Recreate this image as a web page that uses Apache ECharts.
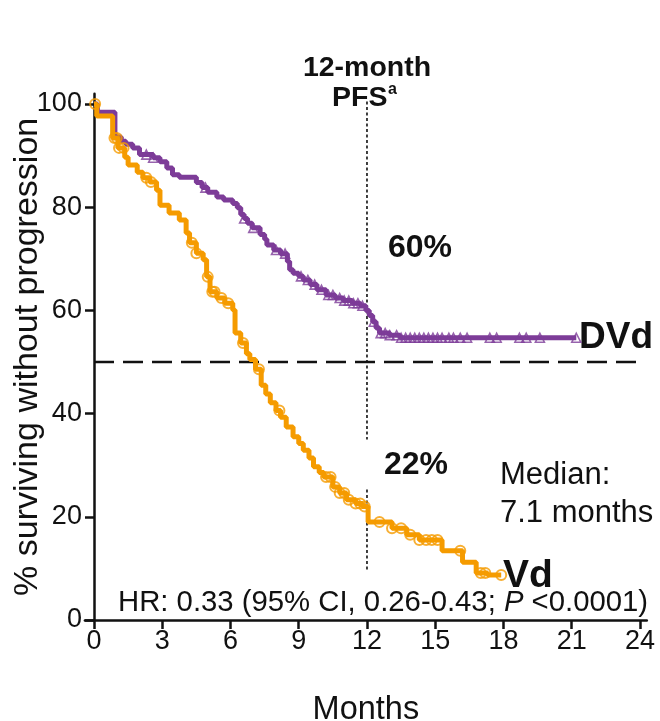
<!DOCTYPE html>
<html>
<head>
<meta charset="utf-8">
<script src="https://cdn.jsdelivr.net/npm/echarts@6/dist/echarts.min.js"></script>
<style>
  html, body { margin: 0; padding: 0; background: #ffffff; }
  #chart { width: 660px; height: 721px; }
</style>
</head>
<body>
<div id="chart"></div>
<script>
// Axis ticks
const xTicks = [0, 3, 6, 9, 12, 15, 18, 21, 24];
const yTicks = [0, 20, 40, 60, 80, 100];

// Kaplan-Meier steps: DVd (months, % progression-free)
const dvdTime = [0, 0.15, 0.92, 1.2, 1.4, 1.7, 2.0, 2.6, 2.9, 3.2, 3.45, 3.75, 4.5, 4.75, 5.0, 5.4,
  5.7, 6.1, 6.3, 6.45, 6.6, 6.75, 6.95, 7.3, 7.5, 7.6, 7.9, 8.2, 8.5, 8.6, 8.75, 9.0, 9.2, 9.5,
  9.8, 10.2, 10.6, 10.95, 11.35, 11.7, 11.95, 12.1, 12.25, 12.4, 12.55, 13.0, 13.45, 21.2];
const dvdSurv = [100, 98.4, 93.6, 92.8, 92.2, 91.5, 90.2, 89.6, 88.8, 87.6, 86.3, 85.8, 84.8, 83.8, 82.9, 82.0,
  81.4, 80.7, 79.9, 78.6, 77.8, 76.9, 76.0, 74.7, 73.8, 72.7, 71.7, 71.0, 69.5, 67.9, 67.2, 66.6, 65.9, 65.0,
  64.0, 63.0, 62.4, 61.9, 61.4, 60.9, 60.0, 59.0, 57.8, 56.6, 55.6, 55.2, 54.7, 54.7];
// Censored patients, DVd (months)
const dvdCensor = [2.3, 2.6, 4.9, 6.6, 7.0, 8.0, 8.4, 9.1, 9.4, 9.7, 10.0, 10.3, 10.5, 10.8, 11.0, 11.2,
  11.4, 11.6, 11.8, 12.3, 12.6, 12.8, 13.0, 13.3, 13.5, 13.7, 13.9, 14.1, 14.3, 14.5, 14.7, 14.9,
  15.1, 15.3, 15.6, 15.8, 16.1, 16.4, 17.4, 17.7, 18.7, 19.0, 19.6, 21.2];

// Kaplan-Meier steps: Vd
const vdTime = [0, 0.12, 0.82, 1.05, 1.35, 1.5, 1.9, 2.15, 2.45, 2.75, 2.9, 3.3, 3.75, 4.05, 4.2, 4.5,
  4.8, 4.95, 5.1, 5.4, 5.75, 6.1, 6.2, 6.45, 6.7, 6.85, 7.1, 7.35, 7.55, 7.75, 8.0, 8.2, 8.45, 8.75,
  9.0, 9.2, 9.45, 9.65, 9.9, 10.1, 10.5, 10.8, 11.1, 11.5, 11.8, 12.05, 13.1, 13.75, 14.3, 15.3,
  16.2, 16.8, 17.3, 17.9];
const vdSurv = [100, 97.7, 93.4, 91.5, 89.7, 88.2, 86.8, 85.7, 84.9, 83.3, 80.4, 78.9, 77.5, 75.0, 73.1, 71.1,
  69.8, 66.5, 63.6, 62.4, 61.4, 60.1, 55.6, 53.7, 51.6, 50.5, 48.6, 45.5, 43.8, 42.1, 40.6, 39.3, 37.4, 35.5,
  34.2, 32.9, 31.4, 29.7, 28.6, 27.7, 25.8, 24.6, 23.3, 22.6, 22.0, 19.0, 17.8, 16.5, 15.5, 13.4,
  11.2, 9.1, 8.7, 8.7];
// Censored patients, Vd (months)
const vdCensor = [0.05, 0.9, 1.0, 1.1, 1.3, 2.3, 2.5, 4.3, 4.5, 5.0, 5.2, 5.3, 5.6, 5.9, 6.55, 7.25,
  8.15, 10.2, 10.4, 10.6, 10.8, 11.0, 11.2, 11.5, 11.7, 11.9, 12.55, 13.1, 13.5, 13.9, 14.3, 14.6,
  14.85, 15.1, 16.1, 17.0, 17.2, 17.9];

// Reference lines
const landmarkMonth = 12;
const medianLevel = 50;

const PURPLE = '#7d3c98';
const ORANGE = '#f59b00';
const FONT = '"Liberation Sans", Arial, Helvetica, sans-serif';

function pairs(t, s) { return t.map((v, i) => [v, s[i]]); }
function survAt(t, s, m) {
  let v = s[0];
  for (let i = 0; i < t.length; i++) { if (t[i] <= m) v = s[i]; else break; }
  return v;
}
function censorPoints(c, t, s) { return c.map(m => [m, survAt(t, s, m)]); }

const chart = echarts.init(document.getElementById('chart'), null, { renderer: 'canvas' });

const txt = (text, x, y, size, weight, align) => ({
  type: 'text', x: x, y: y, silent: true,
  style: {
    text: text, fill: '#111', font: (weight || 'normal') + ' ' + size + 'px ' + FONT,
    align: align || 'left', verticalAlign: 'middle'
  }
});

chart.setOption({
  animation: false,
  backgroundColor: '#ffffff',
  textStyle: { fontFamily: FONT },
  grid: { left: 84.9, right: 13.2, top: 93.7, bottom: 101, outerBoundsMode: 'none', containLabel: false },
  xAxis: {
    type: 'value', min: -0.4, max: 24.3,
    name: 'Months', nameLocation: 'middle', nameGap: 74,
    nameTextStyle: { fontSize: 32.5, color: '#111', fontFamily: FONT },
    axisLine: { lineStyle: { color: '#111', width: 2.5 } },
    axisTick: { customValues: xTicks, length: 9, lineStyle: { color: '#111', width: 2.5 } },
    axisLabel: { customValues: xTicks, fontSize: 27, color: '#111', margin: 8, fontFamily: FONT },
    splitLine: { show: false }
  },
  yAxis: {
    type: 'value', min: 0, max: 102,
    name: '% surviving without progression', nameLocation: 'middle', nameGap: 40, nameRotate: 90,
    nameMoveOverlap: false,
    nameTextStyle: { fontSize: 34, color: '#111', fontFamily: FONT },
    axisLine: { onZero: true, lineStyle: { color: '#111', width: 2.5 } },
    axisTick: { customValues: yTicks, length: 9, lineStyle: { color: '#111', width: 2.5 } },
    axisLabel: { customValues: yTicks, fontSize: 27, color: '#111', margin: 3, fontFamily: FONT },
    splitLine: { show: false }
  },
  series: [
    {
      name: 'median', type: 'line', silent: true, symbol: 'none', z: 1,
      data: [[0, medianLevel], [24, medianLevel]],
      lineStyle: { color: '#111', width: 2.5, type: [20, 9] }
    },
    {
      name: 'landmark', type: 'line', silent: true, symbol: 'none', z: 1, clip: false,
      connectNulls: false,
      data: [[landmarkMonth, 100.5], [landmarkMonth, 35], [landmarkMonth, '-'],
             [landmarkMonth, 25.3], [landmarkMonth, 9.3]],
      lineStyle: { color: '#111', width: 1.6, type: [3, 2.5] }
    },
    {
      name: 'DVd', type: 'line', step: 'end', symbol: 'none', z: 3,
      data: pairs(dvdTime, dvdSurv),
      lineStyle: { color: PURPLE, width: 5 }
    },
    {
      name: 'Vd', type: 'line', step: 'end', symbol: 'none', z: 3,
      data: pairs(vdTime, vdSurv),
      lineStyle: { color: ORANGE, width: 5 }
    },
    {
      name: 'DVd censored', type: 'scatter', symbol: 'triangle', symbolSize: 9, z: 4,
      data: censorPoints(dvdCensor, dvdTime, dvdSurv),
      itemStyle: { color: 'rgba(255,255,255,0)', borderColor: PURPLE, borderWidth: 1.6 }
    },
    {
      name: 'Vd censored', type: 'scatter', symbol: 'circle', symbolSize: 10, z: 4,
      data: censorPoints(vdCensor, vdTime, vdSurv),
      itemStyle: { color: 'rgba(255,255,255,0)', borderColor: ORANGE, borderWidth: 2 }
    }
  ],
  graphic: [
    txt('12-month', 367, 68, 28.5, 'bold', 'center'),
    txt('PFS', 332, 98, 28.5, 'bold', 'left'),
    txt('a', 388, 90, 16, 'bold', 'left'),
    txt('60%', 388, 248, 32, 'bold'),
    txt('22%', 384, 465, 32, 'bold'),
    txt('DVd', 579, 338, 37, 'bold'),
    txt('Vd', 503, 576, 39, 'bold'),
    txt('Median:', 500, 475, 31),
    txt('7.1 months', 500, 513, 31),
    {
      type: 'text', x: 118, y: 603, silent: true,
      style: {
        text: 'HR: 0.33 (95% CI, 0.26-0.43; {i|P} <0.0001)',
        font: 'normal 29.3px ' + FONT, fill: '#111', align: 'left', verticalAlign: 'middle',
        rich: { i: { fontStyle: 'italic', fontSize: 29.3, fontFamily: FONT, fill: '#111' } }
      }
    }
  ]
});
</script>
</body>
</html>
